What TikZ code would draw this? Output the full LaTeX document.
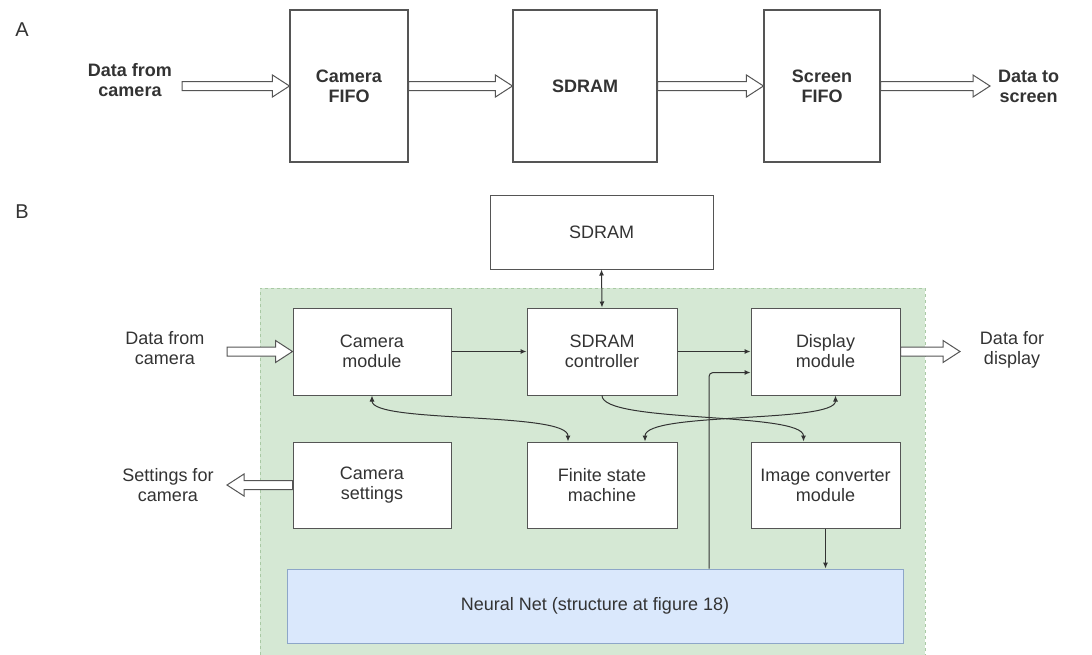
\documentclass[tikz,border=0pt]{standalone}
\usepackage{fontspec}
\setmainfont{Liberation Sans}
\usetikzlibrary{arrows.meta,calc}
\definecolor{grn}{HTML}{D5E8D4}
\definecolor{grnb}{HTML}{A9C9A4}
\definecolor{blu}{HTML}{DAE8FC}
\definecolor{blub}{HTML}{8DA6C8}
\definecolor{edge}{HTML}{555555}
\definecolor{txt}{HTML}{333333}
\newcommand{\hollowarrow}[3]{%
  \filldraw[harrow] let \p1=#1, \p2=#2 in
    (\x1,{\y1+4.5pt}) -- ({\x2-(#3)*17pt},{\y1+4.5pt}) -- ({\x2-(#3)*17pt},{\y1+11pt})
    -- (\x2,\y1) -- ({\x2-(#3)*17pt},{\y1-11pt}) -- ({\x2-(#3)*17pt},{\y1-4.5pt})
    -- (\x1,{\y1-4.5pt}) -- cycle;}
\begin{document}
\begin{tikzpicture}[x=1pt,y=-1pt,
  harrow/.style={draw=edge, fill=white, line width=1pt, line join=miter},
  boxa/.style={draw=edge, line width=1.1pt, fill=white, text=txt, align=center, inner sep=0pt,
    minimum height=152pt, font=\fontsize{18}{20}\selectfont\bfseries},
  lbla/.style={text=txt, align=center, inner sep=0pt, font=\fontsize{18}{20}\selectfont\bfseries},
  boxb/.style={draw=edge, line width=1pt, fill=white, text=txt, align=center, inner sep=0pt,
    font=\fontsize{18}{20}\selectfont},
  lblb/.style={text=txt, align=center, inner sep=0pt, font=\fontsize{18}{20}\selectfont},
  grpbox/.style={fill=grn, draw=grnb, dashed, line width=0.8pt, inner sep=0pt},
  nnbox/.style={fill=blu, draw=blub, line width=1pt, text=txt, inner sep=0pt, font=\fontsize{18}{20}\selectfont},
  conn/.style={draw=txt, line width=1pt, >={Latex[length=6pt,width=5pt]}},
  letter/.style={text=txt, inner sep=0pt, font=\fontsize{20}{20}\selectfont}]
\useasboundingbox (0,0) rectangle (1092,654);
\fill[white] (0,0) rectangle (1092,654);

% ---------- Part A ----------
\node[letter] (labA) at (22,30) {A};
\node[boxa, minimum width=118pt] (cfifo) at (349,86) {Camera\\FIFO};
\node[boxa, minimum width=144pt] (sdramA) at (585,86) {SDRAM};
\node[boxa, minimum width=116pt] (sfifo) at (822,86) {Screen\\FIFO};
\node[lbla] (dfcA) at (130,80) {Data from\\camera};
\node[lbla, anchor=west] (dtsA) at (998,86) {Data to\\screen};
\coordinate (dfcAtail) at (182,86);
\coordinate (dtsAtip) at (990,86);
\hollowarrow{(dfcAtail)}{(cfifo.west)}{1}
\hollowarrow{(cfifo.east)}{(sdramA.west)}{1}
\hollowarrow{(sdramA.east)}{(sfifo.west)}{1}
\hollowarrow{(sfifo.east)}{(dtsAtip)}{1}

% ---------- Part B ----------
\node[letter] (labB) at (22,212) {B};
\node[grpbox, minimum width=665pt, minimum height=370pt] (grp) at (592.5,473) {};
\node[boxb, minimum width=223pt, minimum height=74pt] (sdramB) at (601.5,232) {SDRAM};
\node[boxb, minimum width=158pt, minimum height=87pt] (cam) at (372,351.5) {Camera\\module};
\node[boxb, minimum width=150pt, minimum height=87pt] (ctrl) at (602,351.5) {SDRAM\\controller};
\node[boxb, minimum width=149pt, minimum height=87pt] (disp) at (825.5,351.5) {Display\\module};
\node[boxb, minimum width=158pt, minimum height=86pt] (cs) at (372,485) {Camera\\settings};
\node[boxb, minimum width=150pt, minimum height=86pt] (fsm) at (602,485) {Finite state\\machine};
\node[boxb, minimum width=149pt, minimum height=86pt] (imc) at (825.5,485) {Image converter\\module};
\node[nnbox, minimum width=616pt, minimum height=74pt] (nn) at (595,606) {Neural Net (structure at figure 18)};

\node[lblb] (dfcB) at (165,348) {Data from\\camera};
\node[lblb] (dfd) at (1012,350) {Data for\\display};
\node[lblb] (sfc) at (168,485) {Settings for\\camera};
\coordinate (dfcBtail) at (227,351.5);
\coordinate (dfdtip) at (960,351.5);
\coordinate (sfctip) at (227,485);
\hollowarrow{(dfcBtail)}{(cam.west)}{1}
\hollowarrow{(disp.east)}{(dfdtip)}{1}
\hollowarrow{(cs.west)}{(sfctip)}{-1}

\draw[conn,->] (cam.east) -- (ctrl.west);
\draw[conn,<->] (sdramB.south) -- (ctrl.north);
\draw[conn,->] (ctrl.east) -- (disp.west);
\draw[conn,<->] (cam.south) .. controls +(0,28) and +(0,-30) .. ([xshift=-34pt]fsm.north);
\draw[conn,->] (ctrl.south) .. controls +(0,28) and +(0,-30) .. ([xshift=-22pt]imc.north);
\draw[conn,<->] ([xshift=10pt]disp.south) .. controls +(0,28) and +(0,-30) .. ([xshift=43pt]fsm.north);
\draw[conn,->,rounded corners=4pt] ([xshift=114pt]nn.north) |- ([yshift=-21pt]disp.west);
\draw[conn,->] (imc.south) -- (imc.south |- nn.north);
\end{tikzpicture}
\end{document}
